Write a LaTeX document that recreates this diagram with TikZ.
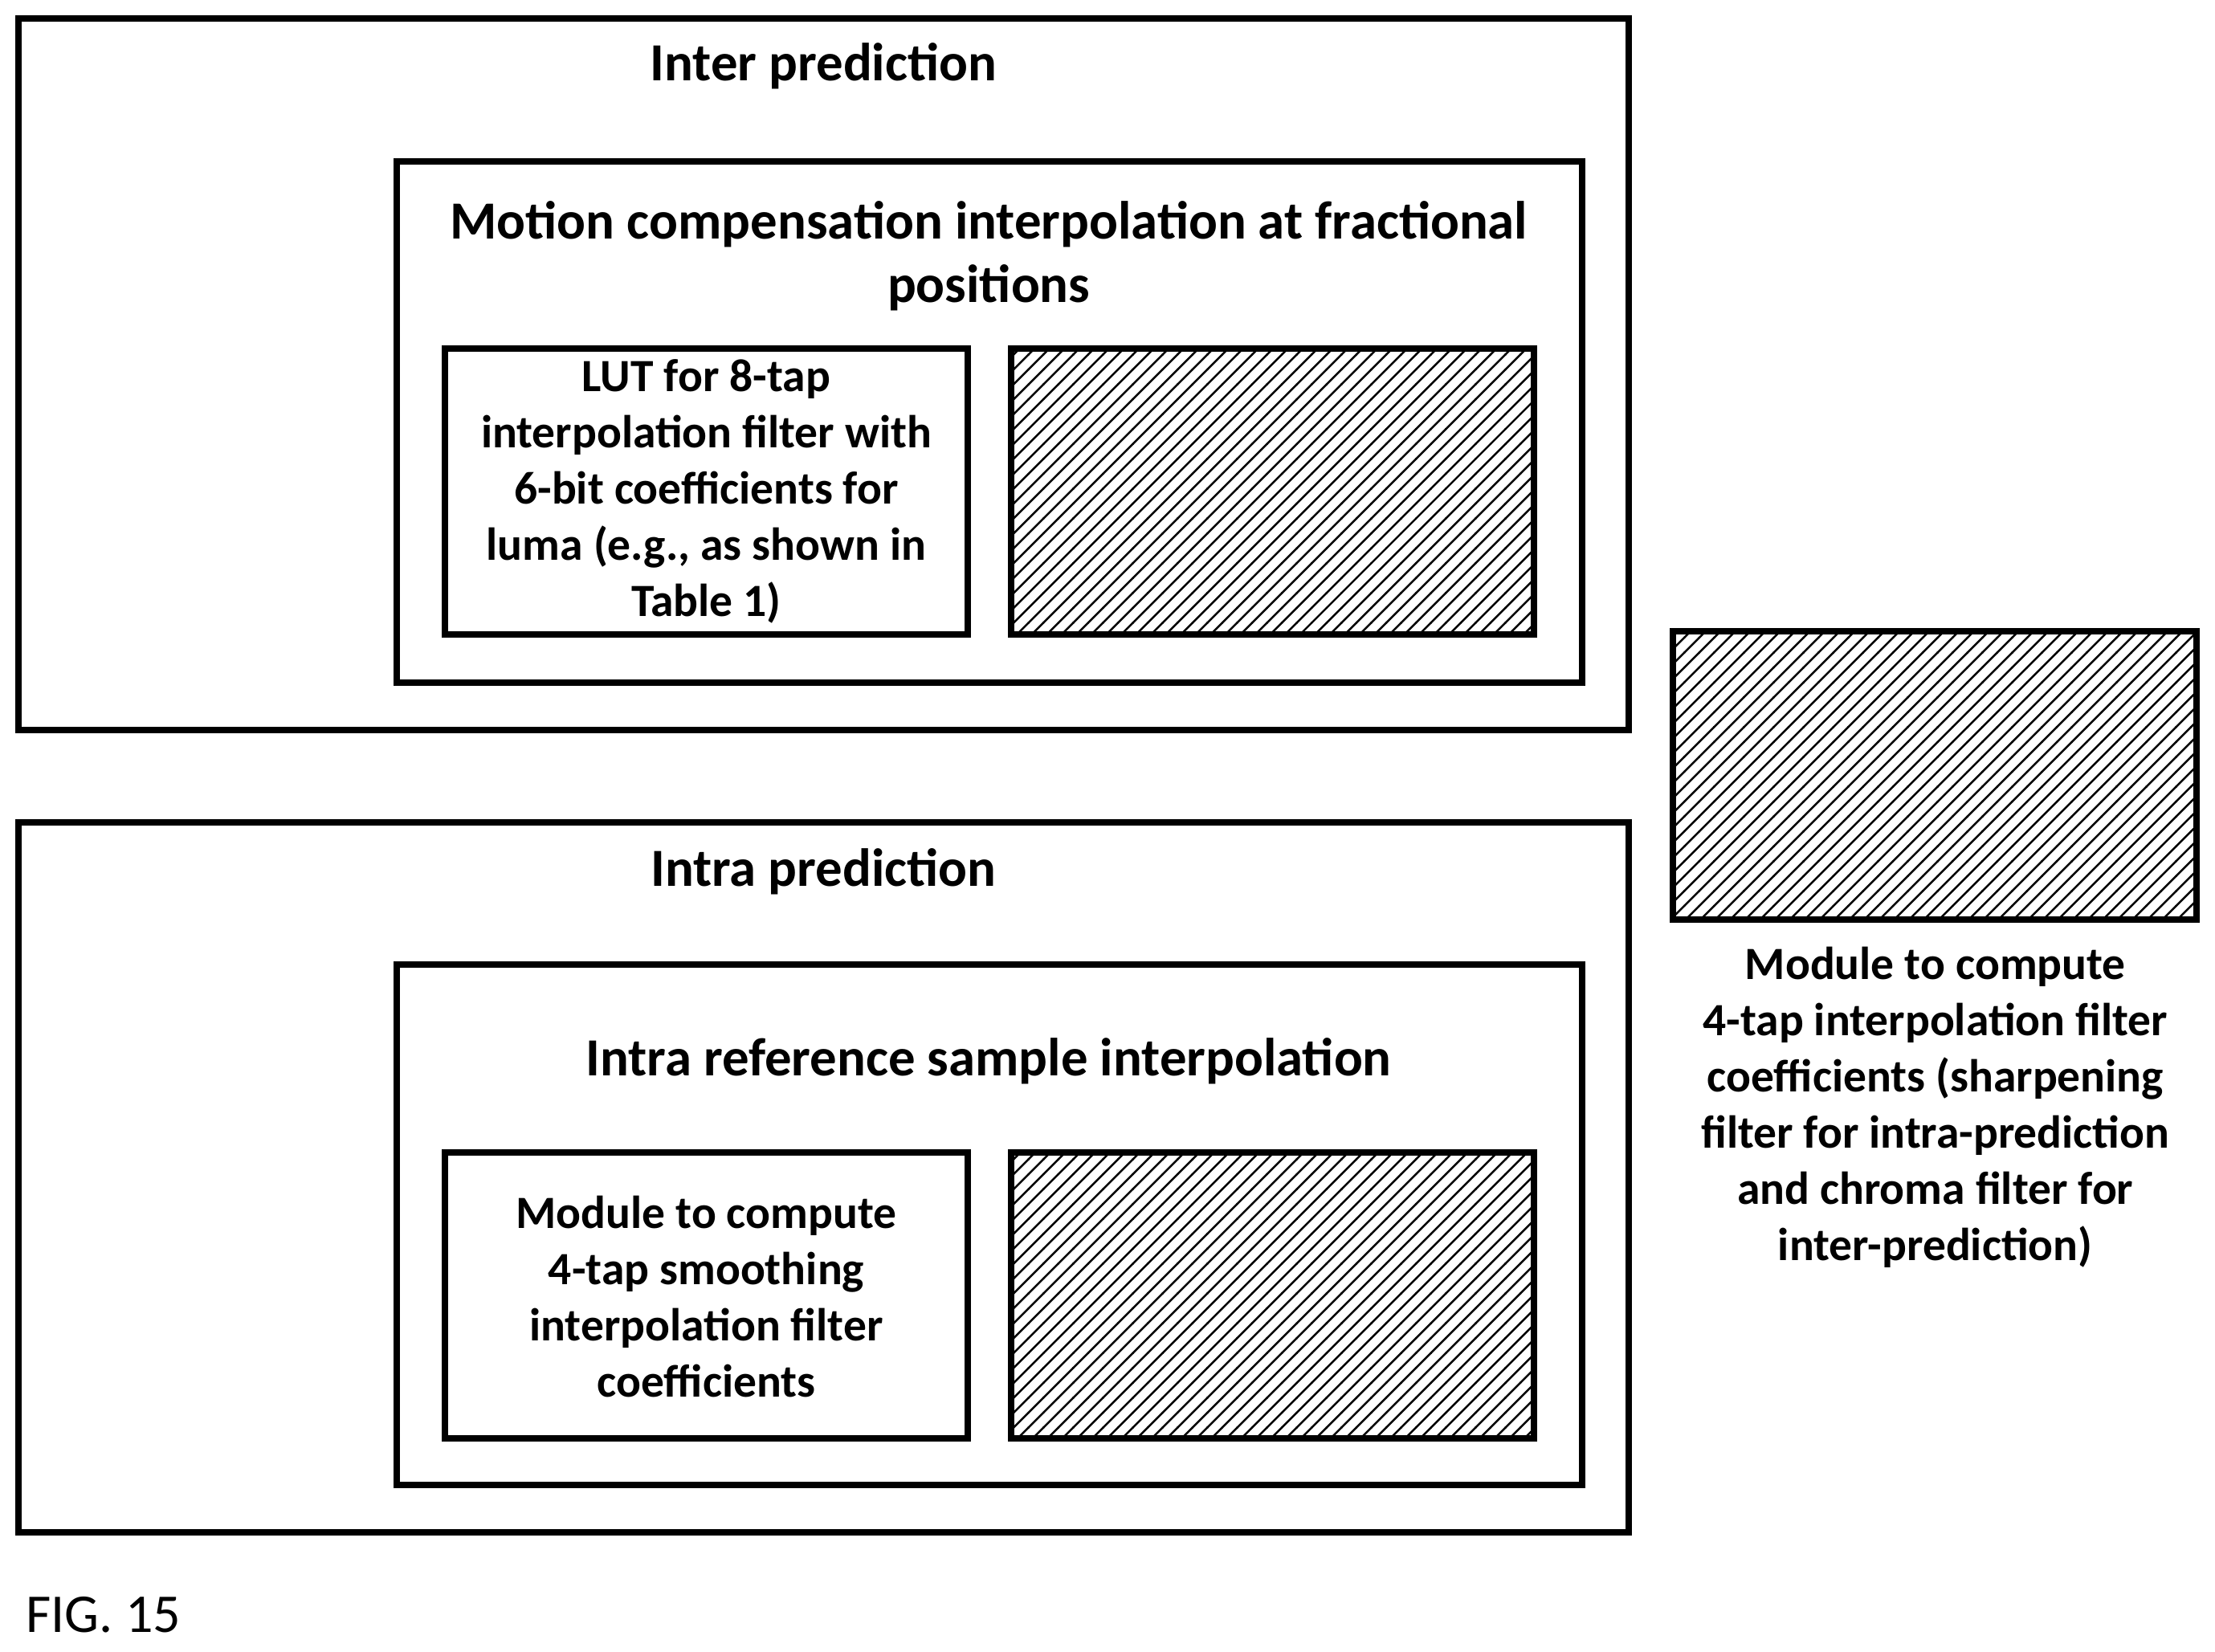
\documentclass[tikz,border=0pt]{standalone}
\usepackage{fontspec}
\setmainfont{Carlito}
\usetikzlibrary{patterns}
\begin{document}
\begin{tikzpicture}[x=0.01cm,y=-0.01cm,
  box/.style={draw,line width=1.3pt},
  hatch/.style={box,pattern=north east lines},
  lbl/.style={font=\bfseries\fontsize{9.3}{11.3}\selectfont,align=center},
  ttl/.style={font=\bfseries\fontsize{10.8}{12.8}\selectfont,align=center}]
\useasboundingbox (0,0) rectangle (1568,1169);
\draw[box] (13,13) rectangle (1153,517);
\node[ttl] (inter) at (583,47) {Inter prediction};
\draw[box] (281,114) rectangle (1120,483);
\node[ttl] (mc) at (700,181) {Motion compensation interpolation at fractional\\positions};
\draw[box] (315,247) rectangle (685,449);
\node[lbl] (lut) at (500,348) {LUT for 8-tap\\interpolation filter with\\6-bit coefficients for\\luma (e.g., as shown in\\Table 1)};
\draw[hatch] (716,247) rectangle (1086,449);
\draw[box] (13,582) rectangle (1153,1085);
\node[ttl] (intra) at (583,617) {Intra prediction};
\draw[box] (281,683) rectangle (1120,1051);
\node[ttl] (irs) at (700,751) {Intra reference sample interpolation};
\draw[box] (315,816) rectangle (685,1018);
\node[lbl] (smooth) at (500,918) {Module to compute\\4-tap smoothing\\interpolation filter\\coefficients};
\draw[hatch] (716,816) rectangle (1086,1018);
\draw[hatch] (1184,447) rectangle (1555,651);
\node[lbl] (sharp) at (1370,784) {Module to compute\\4-tap interpolation filter\\coefficients (sharpening\\filter for intra-prediction\\and chroma filter for\\inter-prediction)};
\node[anchor=west,font=\fontsize{11}{13}\selectfont] (fig) at (6,1143) {FIG. 15};
\end{tikzpicture}
\end{document}
